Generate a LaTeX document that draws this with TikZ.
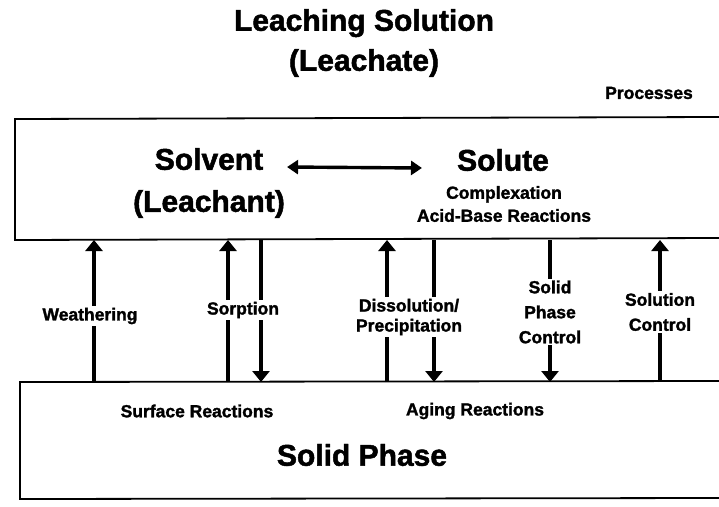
\documentclass[tikz,border=0pt]{standalone}
\usepackage{fontspec}
\setmainfont{Liberation Sans}
\newfontfamily\heavy{Liberation Sans}[BoldFeatures={FakeBold=1.6}]
\usetikzlibrary{arrows.meta,positioning}

\begin{document}
\begin{tikzpicture}[x=1pt,y=-1pt]
	\tikzstyle{every node}=[font=\bfseries]
	\tikzstyle{big}=[font=\heavy\bfseries\fontsize{30}{40}\selectfont, align=center, inner sep=0pt]
	\tikzstyle{small}=[font=\heavy\bfseries\fontsize{17.5}{23}\selectfont, align=center, inner sep=1pt]
	\tikzstyle{lbl}=[small, fill=white, inner sep=2pt]
	\tikzstyle{flow}=[line width=3.4pt, -{Triangle[width=17pt,length=11pt]}]
	\tikzstyle{dflow}=[line width=3.4pt, {Triangle[width=14pt,length=11pt]}-{Triangle[width=14pt,length=11pt]}]
	\tikzstyle{edge}=[line width=1.8pt]

	\useasboundingbox (0,0) rectangle (719,506);

	%% boxes (open to the right)
	\draw[edge] (719,117) -- (15,119) -- (15,240) -- (719,238);
	\draw[edge] (719,381) -- (20,382) -- (20,499) -- (719,498);

	%% texts
	\node[big] (title) at (364,43) {Leaching Solution\\(Leachate)};
	\node[small] (procs) at (649,93) {Processes};
	\node[big, font=\heavy\bfseries\fontsize{30}{42}\selectfont] (solvent) at (209,183) {Solvent\\(Leachant)};
	\node[big] (solute) at (503,160) {Solute};
	\node[small] (reactions) at (504,204) {Complexation\\Acid-Base Reactions};
	\node[small] (surface) at (197,411) {Surface Reactions};
	\node[small] (aging) at (475,411) {Aging Reactions};
	\node[big] (solid) at (362,455) {Solid Phase};

	\draw[dflow] ([xshift=2pt,yshift=-7pt]solvent.east |- solute.west) -- ([xshift=-35pt,yshift=-8pt]solute.west);

	%% arrow ends
	\coordinate (wb) at (94,382);  \coordinate (wt) at (94,240);
	\coordinate (sub) at (228,382); \coordinate (sut) at (228,240);
	\coordinate (sdt) at (261,240); \coordinate (sdb) at (261,382);
	\coordinate (dub) at (387,382); \coordinate (dut) at (387,240);
	\coordinate (ddt) at (434,240); \coordinate (ddb) at (434,382);
	\coordinate (pt) at (550,240);  \coordinate (pb) at (550,382);
	\coordinate (cb) at (660,382);  \coordinate (ct) at (660,240);

	\draw[flow] (wb) -- (wt);
	\draw[flow] (sub) -- (sut);
	\draw[flow] (sdt) -- (sdb);
	\draw[flow] (dub) -- (dut);
	\draw[flow] (ddt) -- (ddb);
	\draw[flow] (pt) -- (pb);
	\draw[flow] (cb) -- (ct);

	%% process labels
	\node[lbl] (weather) at (90,316) {Weathering};
	\node[lbl] (sorp) at (243,310) {Sorption};
	\node[lbl, font=\heavy\bfseries\fontsize{17.5}{20}\selectfont] (dissol) at (409,317) {Dissolution/\\Precipitation};
	\node[lbl, font=\heavy\bfseries\fontsize{17.5}{25}\selectfont] (spc) at (550,312) {Solid\\Phase\\Control};
	\node[lbl, font=\heavy\bfseries\fontsize{17.5}{25}\selectfont] (solc) at (660,312) {Solution\\Control};

\end{tikzpicture}
\end{document}
